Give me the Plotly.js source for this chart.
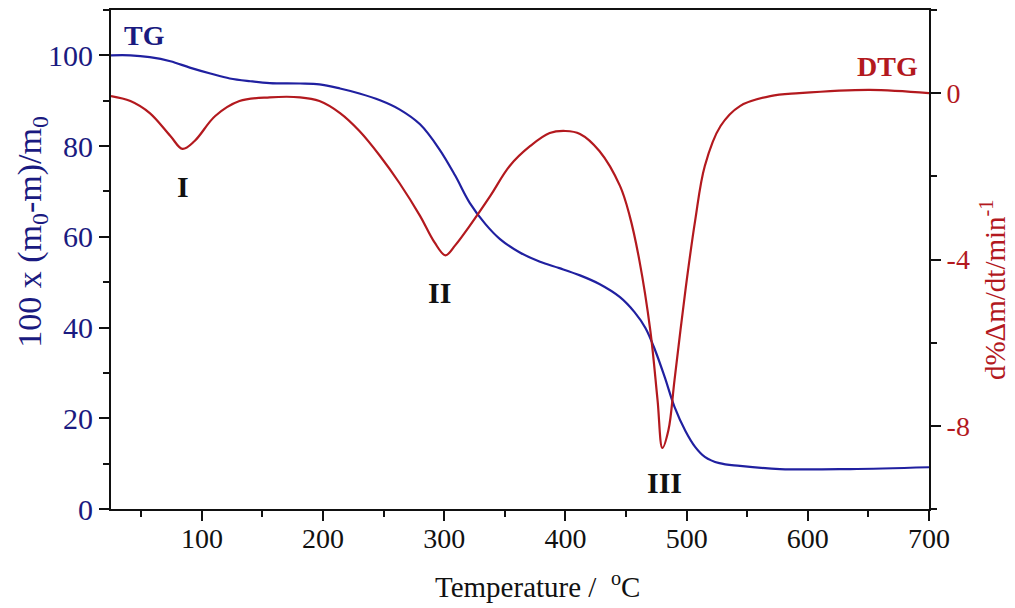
<!DOCTYPE html>
<html>
<head>
<meta charset="utf-8">
<script src="https://cdn.plot.ly/plotly-3.0.1.min.js"></script>
<style>
  html, body { margin: 0; padding: 0; background: #ffffff; }
  #chart { width: 1015px; height: 608px; }
</style>
</head>
<body>
<div id="chart"></div>
<script>
// TG curve (mass %) vs temperature (°C)
const tgTemp = [25, 41, 57, 74, 90, 107, 123, 140, 156, 181, 197, 214, 230, 247, 263, 280, 296, 309, 321, 334, 346, 362, 379, 395, 412, 428, 445, 457, 466, 474, 482, 490, 499, 507, 515, 527, 544, 577, 635, 700];
const tgValue = [100, 100, 99.6, 98.7, 97.3, 96, 94.9, 94.3, 93.9, 93.8, 93.6, 92.7, 91.6, 90.1, 88.1, 84.8, 79.3, 73.5, 67.5, 62.8, 59.5, 56.6, 54.5, 53.1, 51.5, 49.6, 46.7, 43.4, 39.9, 35, 29, 22.5, 17.2, 13.7, 11.5, 10.1, 9.5, 8.8, 8.8, 9.2];

// DTG curve (d%Δm/dt) vs temperature (°C)
const dtgTemp = [25, 41, 57, 74, 84, 94, 111, 131, 156, 181, 197, 214, 230, 247, 263, 280, 292, 301, 309, 321, 338, 354, 371, 387, 400, 412, 428, 445, 453, 461, 470, 476, 480, 485, 490, 499, 507, 515, 528, 544, 569, 593, 651, 700];
const dtgValue = [-0.07, -0.19, -0.48, -1.03, -1.34, -1.15, -0.55, -0.19, -0.1, -0.1, -0.19, -0.48, -0.91, -1.51, -2.16, -2.95, -3.59, -3.9, -3.66, -3.19, -2.47, -1.75, -1.27, -0.96, -0.91, -0.98, -1.39, -2.23, -2.95, -4.02, -5.7, -7.38, -8.53, -8.1, -6.9, -4.74, -3.07, -1.75, -0.79, -0.31, -0.07, 0, 0.08, 0];

// Stage labels
const stageLabels = ['I', 'II', 'III'];
const stageTemp = [84, 296, 482];
const stageY = [71.1, 47.8, 5.9];

const xTicks = [100, 200, 300, 400, 500, 600, 700];
const yTicks = [0, 20, 40, 60, 80, 100];
const y2Ticks = [-8, -4, 0];
const y2TickText = ['-8', '-4', '0'];

const navyText = '#1a1a80';
const navyLine = '#2020a0';
const red = '#b3191e';
const serif = 'Liberation Serif, Times New Roman, serif';

const traces = [
  {
    x: tgTemp, y: tgValue, type: 'scatter', mode: 'lines', name: 'TG',
    line: {color: navyLine, width: 2.2, shape: 'spline', smoothing: 1.0},
    yaxis: 'y', hoverinfo: 'skip'
  },
  {
    x: dtgTemp, y: dtgValue, type: 'scatter', mode: 'lines', name: 'DTG',
    line: {color: red, width: 2.2, shape: 'spline', smoothing: 1.0},
    yaxis: 'y2', hoverinfo: 'skip'
  }
];

const annotations = stageLabels.map((t, i) => ({
  x: stageTemp[i], y: stageY[i], xref: 'x', yref: 'y',
  text: '<b>' + t + '</b>', showarrow: false,
  font: {family: serif, size: 30, color: '#111111'}
}));
annotations.push({
  x: 53, y: 104.4, xref: 'x', yref: 'y', text: '<b>TG</b>', showarrow: false,
  font: {family: serif, size: 28, color: navyText}
});
annotations.push({
  x: 666, y: 0.65, xref: 'x', yref: 'y2', text: '<b>DTG</b>', showarrow: false,
  font: {family: serif, size: 28, color: red}
});
// Axis titles
annotations.push({
  x: 0.521, y: -0.152, xref: 'paper', yref: 'paper', xanchor: 'center', yanchor: 'middle',
  text: 'Temperature /  <sup>o</sup>C', showarrow: false,
  font: {family: serif, size: 29, color: '#111'}
});
annotations.push({
  x: -0.097, y: 0.555, xref: 'paper', yref: 'paper', xanchor: 'center', yanchor: 'middle',
  textangle: -90, text: '100 x (m<sub>0</sub>-m)/m<sub>0</sub>', showarrow: false,
  font: {family: serif, size: 34, color: navyText}
});
annotations.push({
  x: 1.079, y: 0.44, xref: 'paper', yref: 'paper', xanchor: 'center', yanchor: 'middle',
  textangle: -90, text: 'd%Δm/dt/min<sup>-1</sup>', showarrow: false,
  font: {family: serif, size: 29, color: red}
});

const layout = {
  width: 1015, height: 608,
  margin: {l: 111, r: 86, t: 10, b: 99},
  paper_bgcolor: '#ffffff', plot_bgcolor: '#ffffff',
  showlegend: false,
  font: {family: serif},
  xaxis: {
    range: [25, 700], tickvals: xTicks,
    ticks: 'outside', ticklen: 10, tickwidth: 2, tickcolor: '#111',
    minor: {dtick: 50, tick0: 0, ticks: 'outside', ticklen: 6, tickwidth: 2, tickcolor: '#111'},
    showline: true, linecolor: '#111', linewidth: 2, mirror: true,
    showgrid: false, zeroline: false, ticklabelstandoff: -7,
    tickfont: {family: serif, size: 28, color: '#111'}
  },
  yaxis: {
    range: [0, 110], tickvals: yTicks,
    ticks: 'outside', ticklen: 10, tickwidth: 2, tickcolor: '#111',
    minor: {dtick: 10, tick0: 0, ticks: 'outside', ticklen: 6, tickwidth: 2, tickcolor: '#111'},
    showline: true, linecolor: '#111', linewidth: 2,
    showgrid: false, zeroline: false,
    tickfont: {family: serif, size: 30, color: navyText}
  },
  yaxis2: {
    range: [-10, 2], tickvals: y2Ticks, ticktext: y2TickText, overlaying: 'y', side: 'right',
    ticks: 'outside', ticklen: 10, tickwidth: 2, tickcolor: '#111',
    minor: {dtick: 2, tick0: 0, ticks: 'outside', ticklen: 6, tickwidth: 2, tickcolor: '#111'},
    showline: true, linecolor: '#111', linewidth: 2,
    showgrid: false, zeroline: false,
    tickfont: {family: serif, size: 28, color: red}
  },
  annotations: annotations
};

Plotly.newPlot('chart', traces, layout, {staticPlot: true, displayModeBar: false});
</script>
</body>
</html>
